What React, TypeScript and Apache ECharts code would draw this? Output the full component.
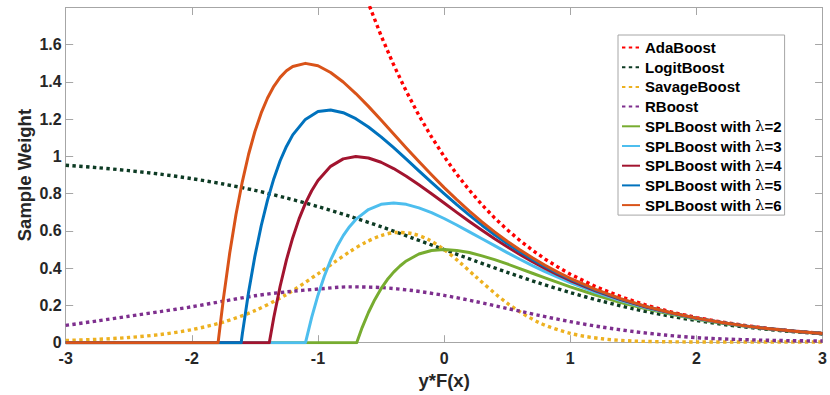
import React, { useEffect, useRef } from "react";
import * as echarts from "echarts";

// ---- data: [y*F(x), sample weight] ----
const adaBoost: number[][] = [
  [-0.7, 2.014], [-0.6, 1.822], [-0.5, 1.649], [-0.4, 1.492], [-0.3, 1.35], [-0.2, 1.221], [-0.1, 1.105],
  [0, 1.0], [0.1, 0.905], [0.2, 0.819], [0.3, 0.741], [0.4, 0.67], [0.5, 0.607], [0.6, 0.549], [0.7, 0.497],
  [0.8, 0.449], [0.9, 0.407], [1.0, 0.368], [1.2, 0.301], [1.4, 0.247], [1.6, 0.202], [1.8, 0.165],
  [2.0, 0.135], [2.2, 0.111], [2.4, 0.091], [2.6, 0.074], [2.8, 0.061], [3.0, 0.05],
];
const logitBoost: number[][] = [
  [-3, 0.953], [-2.75, 0.94], [-2.5, 0.924], [-2.25, 0.905], [-2, 0.881], [-1.75, 0.852], [-1.5, 0.818],
  [-1.25, 0.777], [-1, 0.731], [-0.75, 0.679], [-0.5, 0.623], [-0.25, 0.562], [0, 0.5], [0.25, 0.438],
  [0.5, 0.378], [0.75, 0.321], [1, 0.269], [1.25, 0.223], [1.5, 0.182], [1.75, 0.148], [2, 0.119],
  [2.25, 0.095], [2.5, 0.076], [2.75, 0.06], [3, 0.047],
];
const savageBoost: number[][] = [
  [-3, 0.012], [-2.75, 0.018], [-2.5, 0.028], [-2.25, 0.044], [-2, 0.07], [-1.75, 0.111], [-1.5, 0.172],
  [-1.25, 0.259], [-1, 0.37], [-0.875, 0.43], [-0.75, 0.488], [-0.625, 0.538], [-0.5, 0.575], [-0.375, 0.592],
  [-0.25, 0.585], [-0.125, 0.554], [0, 0.5], [0.125, 0.431], [0.25, 0.355], [0.5, 0.212], [0.75, 0.109],
  [1, 0.05], [1.25, 0.021], [1.5, 0.009], [1.75, 0.005], [2, 0.004], [2.5, 0.004], [3, 0.004],
];
const rBoost: number[][] = [
  [-3, 0.093], [-2.75, 0.117], [-2.5, 0.142], [-2.25, 0.167], [-2, 0.193], [-1.75, 0.223], [-1.5, 0.252],
  [-1.25, 0.273], [-1, 0.288], [-0.75, 0.3], [-0.5, 0.296], [-0.25, 0.28], [0, 0.254], [0.25, 0.221],
  [0.5, 0.184], [0.75, 0.147], [1, 0.113], [1.25, 0.084], [1.5, 0.06], [1.75, 0.041], [2, 0.027],
  [2.25, 0.019], [2.5, 0.014], [2.75, 0.011], [3, 0.009],
];
const splBoost2: number[][] = [
  [-3, 0], [-0.693, 0], [-0.65, 0.081], [-0.6, 0.162], [-0.55, 0.231], [-0.5, 0.29], [-0.45, 0.339],
  [-0.4, 0.379], [-0.35, 0.412], [-0.3, 0.439], [-0.2, 0.476], [-0.1, 0.495], [0, 0.5], [0.1, 0.495],
  [0.2, 0.484], [0.3, 0.466], [0.4, 0.446], [0.5, 0.423], [0.6, 0.398], [0.7, 0.373], [0.8, 0.348],
  [0.9, 0.324], [1.0, 0.3], [1.2, 0.256], [1.4, 0.216], [1.6, 0.182], [1.8, 0.152], [2.0, 0.126],
  [2.2, 0.105], [2.4, 0.087], [2.6, 0.072], [2.8, 0.059], [3.0, 0.049],
];
const splBoost3: number[][] = [
  [-3, 0], [-1.099, 0], [-1.05, 0.136], [-1.0, 0.255], [-0.95, 0.357], [-0.9, 0.443], [-0.85, 0.515],
  [-0.8, 0.575], [-0.75, 0.623], [-0.7, 0.662], [-0.6, 0.715], [-0.5, 0.743], [-0.4, 0.75], [-0.3, 0.743],
  [-0.2, 0.724], [-0.1, 0.698], [0, 0.667], [0.1, 0.632], [0.2, 0.595], [0.3, 0.558], [0.4, 0.521],
  [0.5, 0.484], [0.6, 0.448], [0.7, 0.414], [0.8, 0.382], [0.9, 0.352], [1.0, 0.323], [1.2, 0.271],
  [1.4, 0.226], [1.6, 0.188], [1.8, 0.156], [2.0, 0.129], [2.2, 0.107], [2.4, 0.088], [2.6, 0.073],
  [2.8, 0.06], [3.0, 0.049],
];
const splBoost4: number[][] = [
  [-3, 0], [-1.386, 0], [-1.35, 0.137], [-1.3, 0.303], [-1.25, 0.445], [-1.2, 0.564], [-1.15, 0.665],
  [-1.1, 0.748], [-1.05, 0.816], [-1.0, 0.871], [-0.9, 0.947], [-0.8, 0.987], [-0.7, 1.0], [-0.6, 0.992],
  [-0.5, 0.969], [-0.4, 0.935], [-0.3, 0.894], [-0.2, 0.848], [-0.1, 0.8], [0, 0.75], [0.1, 0.7],
  [0.2, 0.651], [0.3, 0.604], [0.4, 0.558], [0.5, 0.515], [0.6, 0.474], [0.7, 0.435], [0.8, 0.399],
  [0.9, 0.365], [1.0, 0.334], [1.2, 0.279], [1.4, 0.231], [1.6, 0.192], [1.8, 0.159], [2.0, 0.131],
  [2.2, 0.108], [2.4, 0.089], [2.6, 0.073], [2.8, 0.06], [3.0, 0.049],
];
const splBoost5: number[][] = [
  [-3, 0], [-1.609, 0], [-1.6, 0.046], [-1.55, 0.272], [-1.5, 0.465], [-1.45, 0.628], [-1.4, 0.766],
  [-1.35, 0.881], [-1.3, 0.977], [-1.25, 1.054], [-1.2, 1.116], [-1.1, 1.199], [-1.0, 1.241], [-0.9, 1.25],
  [-0.8, 1.235], [-0.7, 1.203], [-0.6, 1.158], [-0.5, 1.105], [-0.4, 1.047], [-0.3, 0.986], [-0.2, 0.923],
  [-0.1, 0.861], [0, 0.8], [0.1, 0.741], [0.2, 0.685], [0.3, 0.631], [0.4, 0.58], [0.5, 0.533], [0.6, 0.489],
  [0.7, 0.447], [0.8, 0.409], [0.9, 0.374], [1.0, 0.341], [1.2, 0.283], [1.4, 0.234], [1.6, 0.194],
  [1.8, 0.16], [2.0, 0.132], [2.2, 0.108], [2.4, 0.089], [2.6, 0.073], [2.8, 0.06], [3.0, 0.049],
];
const splBoost6: number[][] = [
  [-3, 0], [-1.792, 0], [-1.75, 0.235], [-1.7, 0.48], [-1.65, 0.688], [-1.6, 0.864], [-1.55, 1.012],
  [-1.5, 1.134], [-1.45, 1.234], [-1.4, 1.314], [-1.35, 1.377], [-1.3, 1.425], [-1.25, 1.46], [-1.2, 1.483],
  [-1.1, 1.5], [-1.0, 1.487], [-0.9, 1.451], [-0.8, 1.4], [-0.7, 1.338], [-0.6, 1.269], [-0.5, 1.196],
  [-0.4, 1.121], [-0.3, 1.046], [-0.2, 0.973], [-0.1, 0.902], [0, 0.833], [0.1, 0.768], [0.2, 0.707],
  [0.3, 0.649], [0.4, 0.595], [0.5, 0.545], [0.6, 0.499], [0.7, 0.456], [0.8, 0.416], [0.9, 0.379],
  [1.0, 0.345], [1.2, 0.286], [1.4, 0.237], [1.6, 0.195], [1.8, 0.161], [2.0, 0.132], [2.2, 0.109],
  [2.4, 0.089], [2.6, 0.073], [2.8, 0.06], [3.0, 0.049],
];

const seriesNames = [
  "AdaBoost", "LogitBoost", "SavageBoost", "RBoost",
  "SPLBoost with λ=2", "SPLBoost with λ=3", "SPLBoost with λ=4", "SPLBoost with λ=5", "SPLBoost with λ=6",
];
const seriesData = [adaBoost, logitBoost, savageBoost, rBoost, splBoost2, splBoost3, splBoost4, splBoost5, splBoost6];
const seriesColors = ["#ff0000", "#0d3b24", "#edb120", "#7e2f8e", "#77ac30", "#4dbeee", "#a2142f", "#0072bd", "#d95319"];
const dottedFlags = [true, true, true, true, false, false, false, false, false];
const smoothFlags = [false, true, true, true, false, false, false, false, false];

const xTicks = { min: -3, max: 3, interval: 1 };
const yTicks = { min: 0, max: 1.8, interval: 0.2 };

const FONT = "'Liberation Sans', Arial, Helvetica, sans-serif";
const AXIS_COLOR = "#a6a6a6";
const TEXT_COLOR = "#262626";

export default function App() {
  const ref = useRef<HTMLDivElement>(null);
  useEffect(() => {
    if (!ref.current) return;
    const chart = echarts.init(ref.current, undefined, { renderer: "svg" });
    const tickStyle = { show: true, inside: true, length: 7.5, lineStyle: { color: AXIS_COLOR, width: 1 } };
    const lineAxis = { show: true, onZero: false, lineStyle: { color: AXIS_COLOR, width: 1 } };
    const series = seriesNames.map((name, i) => ({
      name,
      type: "line",
      data: seriesData[i],
      showSymbol: false,
      symbol: "none",
      smooth: smoothFlags[i] ? 0.3 : false,
      clip: true,
      color: seriesColors[i],
      lineStyle: {
        color: seriesColors[i],
        width: dottedFlags[i] ? 3.4 : 3,
        type: dottedFlags[i] ? [3.4, 3.4] : "solid",
        cap: "butt",
        join: "round",
      },
      emphasis: { disabled: true },
      z: 2 + i,
    }));
    chart.setOption({
      animation: false,
      backgroundColor: "#ffffff",
      grid: { left: 65.7, right: 6, top: 7.5, bottom: 52.3, containLabel: false },
      xAxis: [
        {
          type: "value",
          position: "bottom",
          ...xTicks,
          axisLine: lineAxis,
          axisTick: tickStyle,
          splitLine: { show: false },
          axisLabel: {
            show: true,
            margin: 8,
            color: TEXT_COLOR,
            fontFamily: FONT,
            fontWeight: "bold",
            fontSize: 16,
          },
          name: "y*F(x)",
          nameLocation: "middle",
          nameGap: 28,
          nameMoveOverlap: false,
          nameTextStyle: { color: TEXT_COLOR, fontFamily: FONT, fontWeight: "bold", fontSize: 18.5 },
        },
        {
          type: "value",
          position: "top",
          ...xTicks,
          axisLine: lineAxis,
          axisTick: tickStyle,
          splitLine: { show: false },
          axisLabel: { show: false },
        },
      ],
      yAxis: [
        {
          type: "value",
          position: "left",
          ...yTicks,
          axisLine: lineAxis,
          axisTick: tickStyle,
          splitLine: { show: false },
          axisLabel: {
            show: true,
            margin: 4,
            color: TEXT_COLOR,
            fontFamily: FONT,
            fontWeight: "bold",
            fontSize: 16,
            formatter: (v: number) => (v > 1.7 ? "" : String(Math.round(v * 10) / 10)),
          },
          name: "Sample Weight",
          nameLocation: "middle",
          nameGap: 32,
          nameMoveOverlap: false,
          nameTextStyle: { color: TEXT_COLOR, fontFamily: FONT, fontWeight: "bold", fontSize: 18.5 },
        },
        {
          type: "value",
          position: "right",
          ...yTicks,
          axisLine: lineAxis,
          axisTick: tickStyle,
          splitLine: { show: false },
          axisLabel: { show: false },
        },
      ],
      legend: {
        show: true,
        orient: "vertical",
        left: 618,
        top: 35,
        padding: [4, 3, 1.5, 3],
        itemWidth: 18,
        itemHeight: 10,
        itemGap: 2.7,
        backgroundColor: "#ffffff",
        borderColor: AXIS_COLOR,
        borderWidth: 1,
        borderRadius: 0,
        selectedMode: false,
        itemStyle: { opacity: 0, borderWidth: 0 },
        data: seriesNames,
        formatter: (name: string) => {
          const k = name.indexOf("λ");
          if (k < 0) return "{t|" + name + "}";
          return "{t|" + name.slice(0, k) + "}{l|λ}{t|" + name.slice(k + 1) + "}";
        },
        textStyle: {
          color: "#000000",
          fontFamily: FONT,
          fontWeight: "bold",
          fontSize: 15,
          lineHeight: 17,
          rich: {
            t: { color: "#000000", fontFamily: FONT, fontWeight: "bold", fontSize: 15, lineHeight: 17 },
            l: { color: "#000000", fontFamily: "'DejaVu Serif', 'Liberation Serif', serif", fontWeight: "normal", fontSize: 15, lineHeight: 17 },
          },
        },
      },
      series,
    });
    return () => chart.dispose();
  }, []);
  return (
    <div
      ref={ref}
      style={{ position: "absolute", left: 0, top: 0, width: 830, height: 395, background: "#fff" }}
    />
  );
}
